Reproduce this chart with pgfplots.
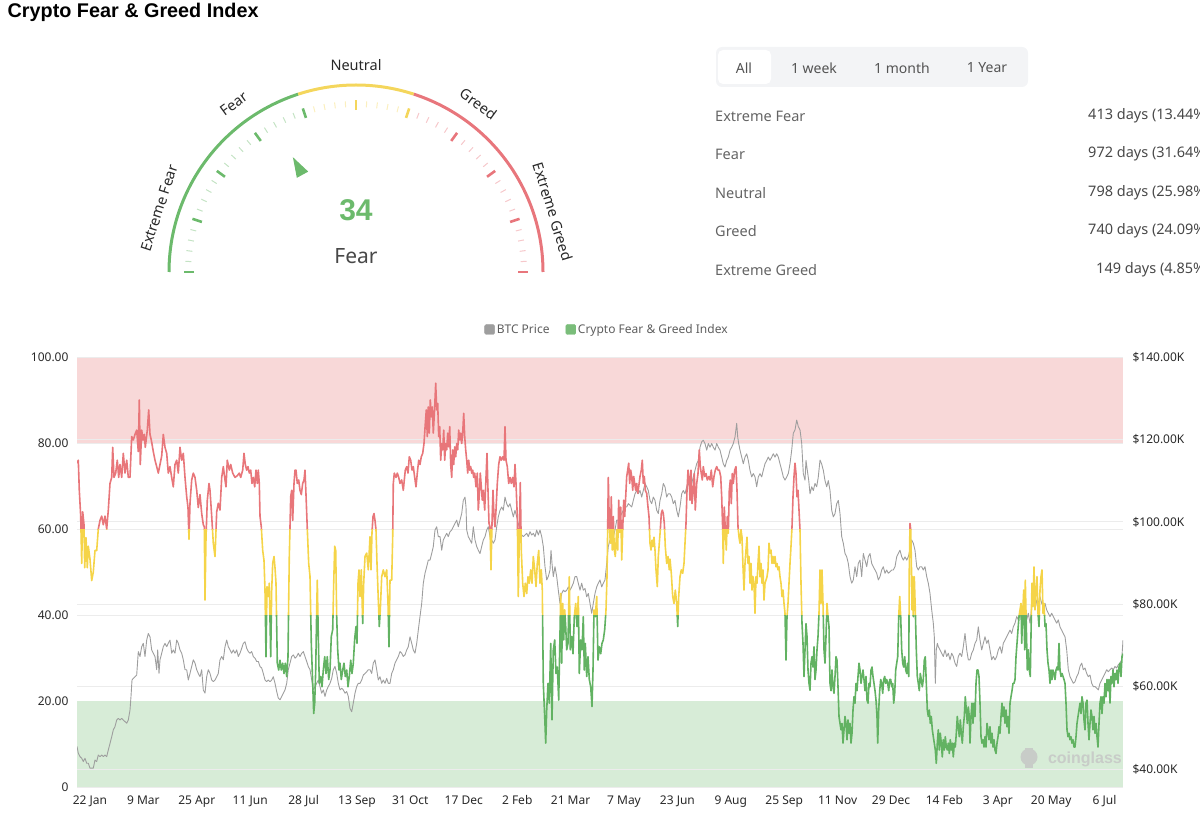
\documentclass[border=0pt]{standalone}
\usepackage{pgfplots}
\pgfplotsset{compat=1.18}
\usepackage{pgfplotstable}
\usepackage{fontspec}
\setmainfont{Noto Sans}
\newfontfamily\titlefont{Liberation Sans}

\definecolor{fgred}{RGB}{232,118,122}
\definecolor{fgyellow}{RGB}{245,212,72}
\definecolor{fggreen}{RGB}{98,178,98}
\definecolor{bandred}{RGB}{248,216,216}
\definecolor{bandgreen}{RGB}{215,236,215}
\definecolor{btcgray}{RGB}{158,158,158}
\definecolor{gridgray}{RGB}{236,236,236}
\definecolor{ticktext}{RGB}{40,40,40}
\definecolor{gaugegreen}{RGB}{108,186,108}
\definecolor{gaugeyellow}{RGB}{244,214,92}
\definecolor{gaugered}{RGB}{232,118,124}
\definecolor{labeltext}{RGB}{40,40,40}
\definecolor{stattext}{RGB}{100,100,100}
\definecolor{ctrlbg}{RGB}{243,244,246}
\definecolor{wmgray}{RGB}{200,204,200}

\pgfplotstableread{
x y
77.0 75.3
78.3 76.0
79.3 69.0
80.7 63.0
81.7 52.0
82.7 64.0
84.0 61.0
84.7 51.0
86.0 58.0
87.3 51.0
88.3 56.0
90.0 53.0
91.7 48.0
93.3 50.0
95.0 55.0
96.7 55.0
98.3 60.0
100.0 62.0
101.7 63.0
103.3 61.0
105.0 63.0
106.7 60.0
108.3 64.4
110.0 70.6
111.7 72.0
112.7 79.0
114.0 72.0
115.7 73.0
117.3 76.0
118.7 72.0
120.0 75.0
121.7 72.0
123.3 77.6
125.0 73.0
126.7 76.0
128.3 72.0
130.0 72.0
131.7 81.5
133.3 80.7
135.0 82.0
136.7 83.0
138.3 78.0
139.3 90.0
140.3 75.0
141.7 83.0
143.0 80.7
144.3 82.0
145.3 79.0
147.3 83.0
148.7 87.7
150.0 82.0
151.3 80.7
153.3 78.0
155.0 76.0
156.7 74.5
158.3 73.0
160.0 75.0
161.7 77.0
163.3 82.0
165.0 79.0
166.7 77.6
168.3 73.0
170.0 74.5
171.7 72.0
173.3 69.8
175.0 75.0
176.7 76.0
178.3 73.0
180.0 79.0
181.7 76.0
183.3 77.6
185.0 72.0
186.7 67.5
188.0 65.0
189.0 57.6
190.0 66.0
191.7 71.4
193.3 73.0
195.0 72.0
196.7 69.0
198.3 65.0
200.0 68.0
201.7 63.6
203.3 61.0
204.3 60.5
205.0 43.5
206.0 58.0
207.3 66.7
209.0 70.6
210.0 69.0
211.7 63.0
213.3 56.7
215.0 53.6
216.7 64.0
218.3 66.0
220.0 64.4
221.7 72.0
223.3 74.5
225.0 71.4
226.0 69.8
227.3 76.0
229.3 73.7
230.7 75.0
232.7 73.0
235.0 72.0
237.3 72.4
239.3 73.0
240.7 72.0
242.7 73.7
244.0 77.6
245.3 75.0
246.7 73.7
248.0 74.5
249.3 73.0
250.7 73.7
252.0 70.6
253.3 72.0
254.7 69.8
256.0 73.7
257.3 70.6
258.3 73.7
259.3 70.6
260.0 63.0
261.3 60.5
262.7 55.0
264.0 52.7
265.0 45.8
266.0 30.3
267.0 46.6
268.3 44.3
269.3 47.4
270.7 30.3
271.7 45.8
272.7 52.0
274.0 53.6
275.0 51.0
276.0 47.4
277.3 28.8
278.7 27.2
280.0 29.5
281.3 27.2
282.7 28.8
284.0 26.4
285.3 28.8
286.7 25.7
288.0 30.3
288.7 43.5
289.3 53.6
290.0 60.5
290.7 67.5
291.7 69.0
292.7 62.0
294.0 70.6
295.0 73.7
296.0 73.7
297.3 70.6
298.7 71.4
300.0 69.0
301.3 68.0
302.7 70.6
304.0 71.4
305.0 73.7
306.0 68.0
307.3 60.0
308.7 52.0
310.0 49.0
311.3 33.4
312.7 24.1
313.7 17.1
314.7 19.5
315.7 27.2
316.7 41.2
317.3 48.1
318.3 35.0
319.3 24.1
320.7 25.7
322.0 23.3
323.3 27.2
324.7 30.3
326.0 26.4
327.3 30.3
328.7 25.0
330.0 27.2
331.3 35.0
332.7 36.6
333.7 47.4
334.7 56.0
335.7 55.0
336.7 39.6
337.7 31.9
339.0 27.2
340.0 28.8
341.3 25.0
342.7 27.2
344.0 28.8
345.3 25.7
346.7 27.2
348.0 23.3
349.3 25.7
350.7 29.5
352.0 26.4
353.3 28.8
354.7 34.5
356.0 37.3
357.0 33.4
358.0 47.4
359.0 50.5
360.0 44.3
361.3 50.5
362.7 38.0
363.7 47.4
365.0 53.6
366.7 54.4
368.3 50.5
370.0 58.2
371.0 50.5
372.0 59.2
373.0 62.9
374.0 63.6
375.0 62.0
376.0 59.8
377.0 52.0
378.3 43.5
379.3 37.3
380.3 41.2
381.7 48.9
383.3 50.5
385.0 48.9
386.7 50.5
388.0 42.7
389.0 32.6
390.0 48.1
391.7 48.1
392.7 58.2
393.3 70.6
394.3 73.0
396.0 72.0
397.3 73.0
398.7 72.0
400.0 70.6
401.7 71.4
403.3 69.0
404.3 71.4
405.3 73.7
406.7 74.5
408.0 73.0
409.3 76.8
410.7 76.0
412.0 73.7
413.3 74.5
414.7 72.0
416.0 69.8
417.3 73.0
418.7 76.0
420.0 75.0
421.3 76.8
422.7 77.6
424.0 79.9
425.3 84.5
426.3 87.7
427.3 81.5
428.3 88.4
429.3 82.3
430.3 90.0
431.3 86.1
432.3 88.4
433.3 82.3
434.7 88.4
435.7 93.9
436.7 87.7
437.7 89.2
438.7 81.5
439.7 83.8
440.7 76.0
441.7 79.9
442.7 78.4
443.7 83.0
444.7 76.0
445.7 79.9
446.7 78.4
447.7 82.3
448.7 79.1
449.7 83.8
450.7 75.0
451.7 72.0
452.7 78.4
453.7 75.0
454.7 79.1
455.7 76.8
456.7 79.9
457.7 78.4
458.7 83.0
459.7 80.7
460.7 82.3
461.7 79.9
462.7 82.3
463.7 86.9
464.7 81.5
465.7 78.4
466.7 76.0
467.7 73.0
468.7 76.0
469.7 73.7
470.7 74.5
471.7 73.0
472.7 73.7
473.7 72.0
474.7 73.0
476.0 69.8
477.3 73.0
478.3 64.4
479.3 68.1
480.3 73.0
481.3 69.8
482.3 66.7
483.3 69.0
484.7 64.4
486.0 72.0
487.0 77.6
488.0 69.0
489.0 61.3
490.0 60.5
491.0 50.5
492.0 61.3
493.0 69.0
494.0 62.9
495.0 60.5
496.0 64.4
497.3 70.6
498.7 75.0
500.0 76.8
501.3 76.0
502.7 76.8
504.0 76.0
505.0 83.8
506.0 76.0
507.3 74.5
508.7 70.6
510.0 72.0
511.3 70.6
512.7 72.0
514.0 69.8
515.0 75.0
516.0 70.6
517.3 62.9
518.3 44.3
519.3 58.2
520.3 70.8
521.3 55.0
522.7 47.4
524.0 44.3
525.3 47.4
526.7 45.0
528.0 48.9
529.3 47.4
530.7 50.5
532.0 47.4
533.3 53.6
534.7 50.5
536.0 46.6
537.3 52.0
538.7 55.0
540.0 47.4
541.3 50.5
542.3 45.8
543.3 24.1
544.7 16.4
545.7 10.2
546.7 17.9
548.0 24.1
549.3 19.5
550.7 33.4
552.0 15.6
553.3 31.9
554.7 34.2
556.0 26.4
557.3 27.9
558.7 20.2
559.7 31.9
560.7 45.0
561.7 28.8
562.7 42.7
563.7 34.2
564.7 41.2
565.7 37.3
566.7 31.9
568.0 33.4
569.3 48.9
570.3 31.9
571.7 35.0
573.0 31.0
574.3 39.6
575.7 42.7
577.0 37.3
578.3 44.3
579.3 26.4
580.7 34.2
582.0 31.9
583.3 39.6
584.3 27.2
585.3 33.4
586.7 25.7
588.0 30.3
589.3 25.0
590.7 23.3
592.0 18.7
593.0 27.2
594.0 41.2
595.3 39.6
596.7 44.3
598.0 29.5
599.3 32.6
600.7 31.0
602.0 33.4
603.3 34.2
604.7 36.6
606.0 41.2
607.0 48.9
607.7 60.5
608.3 72.0
609.3 61.3
610.3 56.7
611.3 67.5
612.3 55.1
613.3 62.9
614.3 55.1
615.3 53.6
616.7 59.8
617.7 55.1
618.7 66.7
619.7 59.2
620.7 65.1
621.7 52.8
622.7 59.8
623.7 66.7
624.7 62.9
625.7 67.5
626.7 72.2
627.7 73.7
628.7 75.3
629.7 70.6
630.7 73.7
631.7 72.2
632.7 69.0
633.7 72.2
634.7 70.6
635.7 69.0
636.7 70.6
637.7 68.3
638.7 69.8
640.0 72.2
641.3 73.7
642.3 76.0
643.3 70.6
644.3 72.2
645.3 69.0
646.7 68.3
648.0 65.1
649.0 62.9
650.0 56.7
651.0 55.1
652.0 57.4
653.0 55.9
654.0 58.1
655.0 55.1
656.0 50.5
657.3 46.6
658.3 53.6
659.3 56.7
660.3 59.8
661.3 63.6
662.3 64.4
663.3 63.6
664.3 61.3
665.3 55.9
666.7 52.0
668.0 53.6
669.3 50.5
670.0 53.0
671.3 49.7
672.7 44.3
674.0 42.7
675.3 45.8
676.7 42.7
677.7 37.3
678.7 44.3
680.0 48.9
681.3 50.5
682.7 49.7
684.0 52.0
685.0 56.7
686.0 61.3
687.0 69.0
688.0 73.7
689.0 72.2
690.0 66.7
691.0 73.7
692.0 65.9
693.3 69.0
694.3 72.9
695.3 64.4
696.7 70.6
698.0 72.9
699.3 78.4
700.3 74.5
701.3 72.9
702.3 71.4
703.3 74.5
704.7 72.2
706.0 72.9
707.3 71.4
708.7 72.2
710.0 71.4
711.3 73.7
712.7 69.8
714.0 72.2
715.3 73.7
716.7 74.5
718.0 73.7
719.3 73.7
720.7 72.2
721.7 67.5
722.7 59.8
723.3 52.0
724.3 65.1
725.3 59.8
726.3 55.1
727.3 62.9
728.3 59.0
729.3 69.0
730.3 71.4
731.3 65.9
732.3 72.9
733.3 70.6
734.7 73.7
736.0 74.5
737.0 69.0
738.0 60.5
739.0 58.1
740.0 56.7
741.0 59.8
742.0 58.1
743.0 51.2
744.0 45.8
745.0 52.0
746.0 55.1
747.0 58.1
748.0 52.0
749.0 53.6
750.0 47.4
751.0 52.0
752.0 45.8
753.0 48.9
754.0 47.4
755.0 40.4
756.0 48.9
757.0 47.4
758.0 52.0
759.0 56.0
760.0 48.9
761.0 52.0
762.0 47.4
763.0 50.5
764.0 43.5
765.0 47.4
766.0 48.1
767.0 48.9
768.0 50.5
769.0 56.7
770.0 54.4
771.0 55.1
772.0 52.0
773.0 53.6
774.0 52.0
775.0 53.6
776.0 51.2
777.0 52.0
778.0 50.5
779.0 51.2
780.0 48.9
781.0 47.4
782.0 44.3
783.0 45.8
784.0 42.7
785.0 40.4
786.0 29.5
787.0 39.6
788.0 42.7
789.0 47.4
790.0 52.0
791.0 56.0
792.0 60.5
793.0 67.5
794.0 72.2
795.0 75.3
796.0 72.9
797.0 67.5
798.0 69.0
799.0 64.4
800.0 59.8
801.0 47.4
802.0 38.0
803.0 33.4
804.0 25.7
805.0 31.9
806.0 38.0
807.0 35.0
808.0 27.2
809.0 24.1
810.0 22.5
811.0 28.8
812.0 30.3
813.0 27.9
814.0 32.6
815.0 25.0
816.0 27.2
817.0 31.9
818.0 35.0
819.0 40.4
820.0 50.5
821.0 42.7
822.0 50.5
823.0 42.7
824.0 31.9
825.0 28.8
826.0 35.0
827.0 42.7
828.0 39.6
829.0 37.3
830.0 24.1
831.0 22.4
832.0 27.2
833.0 23.3
834.0 21.8
835.0 25.7
836.0 30.3
837.0 29.5
838.0 23.3
839.0 16.4
840.0 14.8
841.0 13.3
842.0 14.8
843.0 10.2
844.0 13.3
845.0 16.4
846.0 14.8
847.0 11.0
848.0 15.6
849.0 12.5
850.0 14.8
851.0 10.2
852.0 12.5
853.0 17.9
854.0 21.0
855.0 19.5
856.0 24.1
857.0 22.4
858.0 25.7
859.0 28.8
860.0 27.2
861.0 24.1
862.0 25.7
863.0 27.2
864.0 25.0
865.0 22.4
866.0 25.7
867.0 20.2
868.0 19.5
869.0 24.1
870.0 23.3
871.0 27.2
872.0 27.9
873.0 25.7
874.0 24.1
875.0 22.4
876.0 20.2
877.0 16.4
877.7 10.2
878.7 17.9
879.7 22.4
880.7 25.0
881.7 24.1
882.7 21.8
883.7 25.0
884.7 25.7
885.7 24.1
886.7 25.0
887.7 24.1
888.7 22.4
889.7 25.0
890.7 25.0
891.7 23.3
892.7 24.1
893.7 19.5
894.7 21.8
895.7 27.2
896.7 28.8
897.7 30.3
898.7 39.6
899.7 44.3
900.7 39.6
901.7 31.9
902.7 28.8
903.7 27.9
904.7 30.3
905.7 27.2
906.7 26.4
907.7 28.8
908.7 25.7
909.3 51.2
910.0 61.3
910.7 59.8
911.3 53.6
912.0 41.2
912.7 48.9
913.3 39.6
914.3 48.9
915.3 41.2
916.3 31.9
917.3 25.7
918.3 24.1
919.3 22.4
920.3 26.4
921.3 25.0
922.3 23.3
923.3 25.0
924.3 29.5
925.3 30.3
926.3 24.1
927.3 17.9
928.3 16.4
929.3 17.9
930.3 14.8
931.3 16.4
932.3 13.3
933.3 11.7
934.3 10.2
935.3 8.6
936.3 5.5
937.3 10.2
938.3 13.3
939.3 8.6
940.3 12.5
941.3 10.2
942.3 7.0
943.3 11.0
944.3 8.6
945.3 11.7
946.3 9.3
947.3 8.6
948.3 10.2
949.3 7.8
950.3 11.0
951.3 8.6
952.3 10.2
953.3 7.0
954.3 10.2
955.3 9.3
956.3 12.5
957.3 16.4
958.3 14.0
959.3 11.7
960.3 15.6
961.3 12.5
962.3 10.2
963.3 14.0
964.3 16.4
965.3 21.0
966.3 17.9
967.3 14.8
968.3 18.6
969.3 16.4
970.0 10.2
971.0 16.4
972.0 19.5
973.0 14.8
974.0 19.5
975.0 16.4
976.0 24.1
977.0 27.2
978.0 27.2
979.0 25.7
980.0 19.5
981.0 11.7
982.0 10.2
983.0 11.0
984.0 9.3
985.0 11.7
986.0 9.3
987.0 14.8
988.0 13.3
989.0 11.0
990.0 14.0
991.0 10.2
992.0 12.5
993.0 9.3
994.0 11.0
995.0 8.6
996.0 7.8
997.0 10.2
998.0 11.7
999.0 14.0
1000.0 12.5
1001.0 16.4
1002.0 19.5
1003.0 16.4
1004.0 18.6
1005.0 14.8
1006.0 17.9
1007.0 14.0
1008.0 16.4
1009.0 12.5
1010.0 19.5
1011.0 21.0
1012.0 22.4
1013.0 24.1
1014.0 24.1
1015.0 25.0
1016.0 30.3
1017.0 33.4
1018.0 36.6
1019.0 39.6
1020.0 41.2
1021.0 42.7
1021.7 33.4
1022.7 40.4
1023.7 45.8
1024.7 31.9
1025.3 48.1
1026.3 37.3
1027.3 27.2
1028.3 31.9
1029.3 27.2
1030.3 25.7
1031.3 39.6
1032.0 47.4
1033.0 42.0
1034.0 51.2
1035.0 41.2
1036.0 45.8
1037.0 48.9
1038.0 40.4
1039.0 37.3
1040.0 45.8
1041.0 48.9
1042.0 50.5
1043.0 40.4
1044.0 42.7
1045.0 37.3
1046.0 38.0
1047.0 31.9
1048.0 28.8
1049.0 27.2
1050.0 24.1
1051.0 27.2
1052.0 25.0
1053.0 27.2
1054.0 26.4
1055.0 25.0
1056.0 27.2
1057.0 27.9
1058.0 27.2
1059.0 33.4
1060.0 27.2
1061.0 25.7
1062.0 26.4
1063.0 25.7
1064.0 25.0
1065.0 24.1
1066.0 19.5
1067.0 13.3
1068.0 11.7
1069.0 12.5
1070.0 11.0
1071.0 11.7
1072.0 10.2
1073.0 11.0
1074.0 9.3
1075.0 9.3
1076.0 11.7
1077.0 14.8
1078.0 16.4
1079.0 17.9
1080.0 19.5
1081.0 17.1
1082.0 21.0
1083.0 19.5
1084.0 15.6
1085.0 13.3
1086.0 19.5
1087.0 20.2
1088.0 14.8
1089.0 11.0
1090.0 14.8
1091.0 17.9
1092.0 16.4
1093.0 13.3
1094.0 16.4
1095.0 12.5
1096.0 14.8
1097.0 11.7
1098.0 9.3
1099.0 14.8
1100.0 19.5
1101.0 21.0
1102.0 17.1
1103.0 21.0
1104.0 19.5
1105.0 24.1
1106.0 21.0
1107.0 25.0
1108.0 22.4
1109.0 25.0
1110.0 19.5
1111.0 25.7
1112.0 24.1
1113.0 27.2
1114.0 23.3
1115.0 26.4
1116.0 25.0
1117.0 27.2
1118.0 24.1
1119.0 27.9
1120.0 28.8
1121.0 25.7
1122.0 30.3
1123.0 31.0
}\fgdata

\pgfplotstableread{
x y
77.0 45.5
78.3 43.8
80.0 43.0
81.7 42.6
83.3 41.8
85.0 42.6
86.7 41.4
88.3 41.4
90.0 40.2
91.7 40.2
93.3 40.2
95.0 42.2
96.7 41.8
98.3 43.4
100.0 43.0
101.7 43.4
103.3 43.0
105.0 43.4
106.7 43.0
108.3 44.6
110.0 46.2
111.7 47.8
113.3 49.5
115.0 50.3
116.7 51.9
118.3 52.3
120.0 51.9
121.7 52.3
123.3 51.9
125.0 51.5
126.7 51.1
128.3 51.9
130.0 54.3
131.0 57.6
132.0 61.6
133.3 62.0
135.0 62.4
136.7 62.8
138.3 68.5
140.0 67.3
141.7 69.7
143.3 70.5
145.0 67.3
146.7 71.3
148.3 72.9
150.0 72.1
151.7 68.9
153.3 68.1
155.0 67.3
156.7 64.1
157.7 68.9
159.0 63.2
160.0 66.5
161.7 68.1
163.3 69.7
165.0 70.5
166.7 69.7
168.3 70.5
170.0 71.3
171.7 68.1
173.3 68.9
175.0 68.1
176.7 71.3
178.3 70.5
180.0 68.9
181.7 68.1
183.3 66.5
185.0 64.1
186.7 64.1
188.3 61.6
190.0 63.2
191.7 64.9
193.3 66.5
195.0 65.7
196.7 64.1
198.3 63.2
200.0 62.4
201.7 64.1
203.3 59.2
205.0 58.4
206.7 62.4
208.3 64.1
210.0 63.2
211.7 61.6
213.3 61.2
215.0 61.6
216.7 62.4
218.3 63.2
220.0 66.5
221.7 67.3
223.3 66.5
225.0 69.7
226.7 71.3
228.3 69.7
230.0 68.9
231.7 68.1
233.3 68.9
235.0 68.1
236.7 68.9
238.3 67.3
240.0 68.1
241.7 69.3
243.3 70.5
245.0 70.9
246.7 69.3
248.3 68.5
250.0 68.1
251.7 68.5
253.3 67.3
255.0 66.9
256.7 66.1
258.3 66.1
260.0 64.9
261.7 64.5
263.3 63.2
265.0 61.6
266.7 61.2
268.3 61.6
270.0 61.2
271.7 61.6
273.3 62.4
275.0 60.8
276.7 58.8
278.3 57.2
280.0 56.8
281.7 57.6
283.3 58.4
285.0 59.2
286.7 60.8
288.3 64.1
290.0 65.7
291.7 67.3
293.3 67.7
295.0 66.9
296.7 67.3
298.3 68.1
300.0 67.3
301.7 68.1
303.3 68.5
305.0 67.3
306.7 66.1
308.3 64.9
310.0 64.1
311.7 61.6
313.3 59.2
315.0 60.0
316.7 60.8
318.3 61.6
320.0 60.0
321.7 58.4
323.3 59.2
325.0 57.6
326.7 59.2
328.3 60.0
330.0 60.8
331.7 62.0
333.3 64.1
335.0 64.9
336.7 63.2
338.3 60.8
340.0 59.2
341.7 59.6
343.3 59.2
345.0 58.4
346.7 58.8
348.3 57.6
350.0 54.7
351.7 53.9
353.3 56.0
355.0 58.4
356.7 60.0
358.3 60.8
360.0 60.8
361.7 61.6
363.3 62.8
365.0 63.2
366.7 63.6
368.3 64.1
370.0 64.1
371.7 63.2
373.3 65.7
375.0 66.5
376.7 64.1
378.3 61.6
380.0 62.4
381.7 60.8
383.3 61.6
385.0 60.8
386.7 62.0
388.3 60.8
390.0 60.8
391.7 63.2
393.3 64.1
395.0 65.7
396.7 66.5
398.3 67.3
400.0 68.5
401.7 68.1
403.3 67.3
405.0 67.7
406.7 68.9
408.3 69.7
410.0 72.1
411.7 70.5
413.3 68.9
415.0 68.1
416.7 70.5
418.3 73.7
420.0 77.0
421.7 80.2
423.3 85.1
425.0 87.5
426.7 89.1
428.3 90.7
430.0 90.7
431.7 92.3
433.3 94.0
435.0 98.0
436.7 98.8
438.3 96.4
440.0 96.4
441.7 93.1
443.3 95.6
445.0 96.4
446.7 97.2
448.3 96.4
450.0 97.6
451.7 98.0
453.3 98.8
455.0 99.6
456.7 100.4
458.3 98.8
460.0 100.4
461.7 102.0
463.3 105.2
465.0 106.0
466.0 103.6
466.7 98.0
468.3 96.4
470.0 95.6
471.7 94.8
473.3 98.8
475.0 95.6
476.7 94.0
478.3 93.1
480.0 92.3
481.7 94.0
483.3 95.6
485.0 96.4
486.7 98.0
488.3 98.8
490.0 96.4
491.7 95.6
493.3 94.8
495.0 95.6
496.7 98.8
498.3 101.2
500.0 102.8
501.7 103.6
503.3 102.8
505.0 106.0
506.7 104.4
508.3 103.6
510.0 104.4
511.7 102.8
513.3 101.2
515.0 102.8
516.7 101.2
518.3 99.6
520.0 98.0
521.7 96.8
523.3 96.4
525.0 96.8
526.7 97.2
528.3 96.4
530.0 97.6
531.7 96.8
533.3 97.2
535.0 96.4
536.7 98.0
538.3 96.8
540.0 98.0
541.7 96.4
543.3 94.0
545.0 89.1
546.7 85.9
548.3 86.7
550.0 88.3
551.0 93.1
552.0 89.9
553.3 86.7
555.0 89.1
556.7 86.7
558.3 83.4
560.0 80.2
561.7 82.6
563.3 83.4
565.0 83.0
566.7 83.4
568.3 84.2
570.0 83.4
571.7 84.2
573.3 85.1
575.0 86.7
576.7 86.7
578.3 85.1
580.0 83.4
581.7 85.1
583.3 83.4
585.0 83.8
586.7 81.8
588.3 82.6
590.0 80.2
591.7 77.8
593.3 80.2
595.0 82.6
596.7 84.2
598.3 85.1
600.0 85.9
601.7 84.2
603.3 85.1
605.0 85.9
606.7 89.9
608.3 94.0
610.0 95.6
611.7 94.8
613.3 96.4
615.0 98.0
616.7 100.4
618.3 100.4
620.0 101.2
621.7 102.0
623.3 102.8
625.0 103.6
626.7 103.6
628.3 104.4
630.0 104.0
631.7 103.6
633.3 105.2
635.0 106.8
636.7 107.6
638.3 106.8
640.0 107.6
641.7 106.0
643.3 107.6
645.0 109.3
646.7 108.5
648.3 107.6
650.0 105.2
651.7 104.4
653.3 106.0
655.0 105.2
656.7 102.8
658.3 102.0
660.0 105.2
661.7 106.8
663.3 109.3
665.0 108.5
666.7 106.0
668.3 106.8
670.0 106.8
671.7 106.0
673.3 104.4
675.0 105.2
676.7 102.8
678.3 101.2
680.0 103.6
681.7 106.8
683.3 107.6
685.0 106.8
686.7 108.5
688.3 109.3
690.0 108.5
691.7 109.3
693.3 110.9
695.0 112.5
696.7 114.1
698.3 114.9
700.0 118.1
701.7 119.4
703.3 119.8
705.0 119.0
706.7 117.4
708.3 119.0
710.0 118.1
711.7 119.0
713.3 118.1
715.0 117.4
716.7 119.0
718.3 118.1
720.0 117.4
721.7 115.7
723.3 114.1
725.0 113.3
726.7 114.9
728.3 115.7
730.0 117.4
731.7 118.1
733.3 119.0
735.0 120.6
736.7 123.9
737.7 120.6
738.7 119.0
740.0 117.4
741.7 115.7
743.3 114.1
745.0 115.7
746.7 116.5
748.3 114.9
750.0 112.5
751.7 110.9
753.3 111.7
755.0 110.9
756.7 108.5
758.3 110.9
760.0 111.7
761.7 110.9
763.3 112.5
765.0 114.1
766.7 114.9
768.3 115.7
770.0 114.9
771.7 115.7
773.3 116.5
775.0 115.7
776.7 116.5
778.3 115.7
780.0 114.1
781.7 112.5
783.3 110.9
785.0 110.1
786.7 110.9
788.3 111.7
790.0 114.1
791.7 117.4
793.3 121.5
795.0 122.3
796.7 124.7
798.3 123.1
800.0 122.3
801.7 119.0
803.3 111.7
805.0 110.1
806.0 114.9
807.3 112.5
808.7 110.1
810.0 106.8
811.7 108.5
813.3 107.6
815.0 109.3
816.7 108.5
818.3 110.9
820.0 115.0
821.7 114.0
823.3 112.5
825.0 110.0
826.7 108.5
828.3 110.0
830.0 107.6
831.7 102.8
833.3 101.2
835.0 102.0
836.7 104.4
838.3 105.2
840.0 102.0
841.7 96.4
843.3 94.8
845.0 92.3
846.7 91.5
848.3 89.9
850.0 86.7
851.7 85.1
853.3 85.9
855.0 89.1
856.7 86.7
858.3 89.9
860.0 90.7
861.7 86.7
863.3 92.3
865.0 90.7
866.7 89.1
868.3 91.5
870.0 92.3
871.7 89.9
873.3 89.1
875.0 88.3
876.7 87.5
878.3 85.9
880.0 86.7
881.7 88.3
883.3 89.1
885.0 87.5
886.7 88.3
888.3 87.5
890.0 87.9
891.7 88.3
893.3 88.3
895.0 89.1
896.7 91.5
898.3 92.3
900.0 93.1
901.7 91.5
903.3 90.7
905.0 91.5
906.7 90.7
908.3 91.5
910.0 93.1
911.7 95.6
913.3 94.8
915.0 93.1
916.7 89.1
918.3 88.3
920.0 89.1
921.7 89.1
923.3 88.3
925.0 89.1
926.7 86.7
928.3 85.1
930.0 82.6
931.7 78.6
933.3 75.4
934.3 72.1
935.3 60.8
936.3 68.9
937.3 70.5
938.3 69.7
940.0 68.9
941.7 68.1
943.3 67.3
945.0 68.9
946.7 67.3
948.3 68.1
950.0 66.5
951.7 68.1
953.3 67.3
955.0 65.7
956.7 64.9
958.3 67.3
960.0 68.1
961.7 67.3
963.3 69.7
965.0 72.9
966.7 68.9
968.3 66.5
970.0 66.5
971.7 68.1
973.3 68.9
975.0 70.5
976.7 71.3
978.3 74.5
980.0 71.3
981.7 68.9
983.3 70.5
985.0 72.1
986.7 70.5
988.3 71.3
990.0 68.9
991.7 66.5
993.3 67.3
995.0 66.5
996.7 67.3
998.3 68.9
1000.0 69.7
1001.7 68.1
1003.3 70.5
1005.0 71.3
1006.7 72.1
1008.3 72.9
1010.0 73.7
1011.7 72.9
1013.3 74.5
1015.0 75.4
1016.7 77.0
1018.3 76.2
1020.0 77.8
1021.7 76.2
1023.3 77.0
1025.0 77.8
1026.7 76.2
1028.3 77.8
1030.0 75.4
1031.7 79.4
1033.3 80.2
1035.0 78.6
1036.7 81.0
1038.3 80.2
1040.0 81.8
1041.7 80.2
1043.3 79.4
1045.0 80.2
1046.7 78.6
1048.3 77.8
1050.0 77.0
1051.7 77.8
1053.3 77.0
1055.0 76.2
1056.7 75.4
1058.3 76.2
1060.0 74.5
1061.7 73.7
1063.3 72.9
1065.0 72.1
1066.7 68.9
1068.3 64.1
1070.0 62.4
1071.7 61.6
1073.3 60.8
1075.0 61.2
1076.7 62.4
1078.3 63.2
1080.0 64.9
1081.7 65.7
1083.3 64.1
1085.0 64.5
1086.7 63.2
1088.3 62.4
1090.0 62.8
1091.7 60.8
1093.3 60.0
1095.0 60.0
1096.7 59.6
1098.3 59.2
1100.0 60.8
1101.7 61.6
1103.3 62.4
1105.0 63.2
1106.7 64.1
1108.3 63.6
1110.0 64.1
1111.7 64.5
1113.3 64.1
1115.0 64.9
1116.7 64.5
1118.3 65.3
1120.0 65.7
1121.7 66.5
1123.0 71.3
}\btcdata

\pgfplotsset{
  fgaxis/.style={
    at={(77pt,-787pt)}, anchor=south west,
    scale only axis, width=1046pt, height=430pt,
    xmin=77, xmax=1123, ymin=0, ymax=100,
    hide axis,
  },
}

\begin{document}
\begin{tikzpicture}
\useasboundingbox (0pt,0pt) rectangle (1200pt,-813pt);

% ---------- title ----------
\node[anchor=west, inner sep=0pt, text=black,
      font=\titlefont\bfseries\fontsize{19.8}{22}\selectfont] at (7.5pt,-12pt) {Crypto Fear \& Greed Index};

% ---------- gauge ----------
\begin{scope}[shift={(356pt,-272pt)}]
  \draw[gaugegreen, line width=3pt] (180:187pt) arc[start angle=180, end angle=108, radius=187pt];
  \draw[gaugeyellow, line width=3pt] (108:187pt) arc[start angle=108, end angle=72, radius=187pt];
  \draw[gaugered, line width=3pt] (72:187pt) arc[start angle=72, end angle=0, radius=187pt];
  \foreach \v in {0,2,...,100}{
    \pgfmathsetmacro{\ang}{180-1.8*\v}
    \ifnum\v>60 \def\tc{gaugered}\else\ifnum\v>40 \def\tc{gaugeyellow}\else\def\tc{gaugegreen}\fi\fi
    \pgfmathtruncatemacro{\m}{mod(\v,10)}
    \ifnum\m=0
      \draw[\tc, line width=2.6pt] (\ang:162pt) -- (\ang:172pt);
    \else
      \draw[\tc!40!white, line width=1pt] (\ang:165pt) -- (\ang:171pt);
    \fi
  }
  \begin{scope}[rotate=118.8]
    \fill[gaugegreen] (131pt,0pt) -- (111pt,6.5pt) -- (111pt,-6.5pt) -- cycle;
  \end{scope}
  \begin{scope}[font=\fontsize{14.5}{16}\selectfont, text=labeltext]
    \node[rotate=72] at (162:207pt) {Extreme Fear};
    \node[rotate=36] at (126:208pt) {Fear};
    \node at (90:207pt) {Neutral};
    \node[rotate=-36] at (54:208pt) {Greed};
    \node[rotate=-73] at (17:206pt) {Extreme Greed};
  \end{scope}
  \node[text=gaugegreen, font=\titlefont\bfseries\fontsize{30}{32}\selectfont] at (0pt,62pt) {34};
  \node[text=labeltext!85!white, font=\fontsize{21}{24}\selectfont] at (0pt,16pt) {Fear};
\end{scope}

% ---------- segmented control ----------
\fill[ctrlbg, rounded corners=6pt] (716pt,-47pt) rectangle (1028pt,-87pt);
\fill[white, rounded corners=5pt] (718pt,-50pt) rectangle (771pt,-84pt);
\begin{scope}[font=\fontsize{14}{16}\selectfont, text=labeltext!80!white]
  \node at (744pt,-68pt) {All};
  \node at (814pt,-68pt) {1 week};
  \node at (902pt,-68pt) {1 month};
  \node at (987pt,-68pt) {1 Year};
\end{scope}

% ---------- stats ----------
\begin{scope}[font=\fontsize{14.5}{16}\selectfont, text=stattext]
  \node[anchor=west, inner sep=0pt] at (715pt,-116pt) {Extreme Fear};
  \node[anchor=west, inner sep=0pt] at (715pt,-154pt) {Fear};
  \node[anchor=west, inner sep=0pt] at (715pt,-193pt) {Neutral};
  \node[anchor=west, inner sep=0pt] at (715pt,-231pt) {Greed};
  \node[anchor=west, inner sep=0pt] at (715pt,-270pt) {Extreme Greed};
  \node[anchor=west, inner sep=0pt, text=labeltext!85!white] at (1088pt,-116pt) {413 days (13.44\%)};
  \node[anchor=west, inner sep=0pt, text=labeltext!85!white] at (1088pt,-154pt) {972 days (31.64\%)};
  \node[anchor=west, inner sep=0pt, text=labeltext!85!white] at (1088pt,-193pt) {798 days (25.98\%)};
  \node[anchor=west, inner sep=0pt, text=labeltext!85!white] at (1088pt,-231pt) {740 days (24.09\%)};
  \node[anchor=west, inner sep=0pt, text=labeltext!85!white] at (1096pt,-270pt) {149 days (4.85\%)};
\end{scope}

% ---------- main (left) axis ----------
\begin{axis}[
  at={(77pt,-787pt)}, anchor=south west,
  scale only axis, width=1046pt, height=430pt,
  xmin=77, xmax=1123, ymin=0, ymax=100,
  axis line style={draw=none},
  major tick length=0pt,
  xtick={90,143.4,196.8,250.2,303.6,357,410.4,463.8,517.2,570.6,624,677.4,730.8,784.2,837.6,891,944.4,997.8,1051.2,1104.6},
  xticklabels={22 Jan,9 Mar,25 Apr,11 Jun,28 Jul,13 Sep,31 Oct,17 Dec,2 Feb,21 Mar,7 May,23 Jun,9 Aug,25 Sep,11 Nov,29 Dec,14 Feb,3 Apr,20 May,6 Jul},
  ytick={0,20,40,60,80,100},
  yticklabels={0,20.00,40.00,60.00,80.00,100.00},
  ymajorgrids, grid style={gridgray, line width=0.8pt},
  tick label style={font=\fontsize{12}{14}\selectfont, text=ticktext},
  yticklabel style={xshift=-5pt},
  xticklabel style={yshift=-5pt},
  legend style={at={(0.5067,1)}, anchor=south, yshift=18pt, draw=none, fill=none,
    legend columns=2, font=\fontsize{12}{14}\selectfont, text=labeltext!75!white,
    /tikz/every even column/.append style={column sep=14pt}},
]
\addplot[draw=none, fill=bandred, forget plot] coordinates {(77,80) (1123,80) (1123,100) (77,100)} -- cycle;
\addplot[draw=none, fill=bandgreen, forget plot] coordinates {(77,0) (1123,0) (1123,20) (77,20)} -- cycle;
\addlegendimage{legend image code/.code={\fill[btcgray, rounded corners=1.5pt] (0pt,-5pt) rectangle (10pt,5pt);}}
\addlegendentry{BTC Price}
\addlegendimage{legend image code/.code={\fill[fggreen!85!white, rounded corners=1.5pt] (0pt,-5pt) rectangle (10pt,5pt);}}
\addlegendentry{Crypto Fear \& Greed Index}
\end{axis}

% ---------- right axis: BTC price ----------
\begin{axis}[
  at={(77pt,-787pt)}, anchor=south west,
  scale only axis, width=1046pt, height=430pt,
  xmin=77, xmax=1123, ymin=35.63, ymax=140,
  hide x axis,
  axis y line*=right,
  y axis line style={draw=none},
  major tick length=0pt,
  ytick={40,60,80,100,120,140},
  yticklabels={\$40.00K,\$60.00K,\$80.00K,\$100.00K,\$120.00K,\$140.00K},
  ymajorgrids, grid style={gridgray, line width=0.8pt},
  tick label style={font=\fontsize{12}{14}\selectfont, text=ticktext},
  yticklabel style={xshift=6pt},
]
\addplot[btcgray, line width=0.9pt, line join=round] table {\btcdata};
\end{axis}

% ---------- Fear & Greed line, coloured by zone ----------
\begin{scope}
  \clip (0pt,-529pt) rectangle (1200pt,-300pt);
  \begin{axis}[fgaxis]
    \addplot[fgred, line width=1.6pt, line join=round] table {\fgdata};
  \end{axis}
\end{scope}
\begin{scope}
  \clip (0pt,-615pt) rectangle (1200pt,-529pt);
  \begin{axis}[fgaxis]
    \addplot[fgyellow, line width=1.6pt, line join=round] table {\fgdata};
  \end{axis}
\end{scope}
\begin{scope}
  \clip (0pt,-813pt) rectangle (1200pt,-615pt);
  \begin{axis}[fgaxis]
    \addplot[fggreen, line width=1.6pt, line join=round] table {\fgdata};
  \end{axis}
\end{scope}

% ---------- watermark ----------
\fill[wmgray] (1029pt,-757pt) circle[radius=8.5pt];
\fill[wmgray] (1025pt,-768pt) rectangle (1033pt,-748pt);
\node[anchor=east, inner sep=0pt, text=wmgray, font=\titlefont\bfseries\fontsize{16}{18}\selectfont] at (1122pt,-759pt) {coinglass};

\end{tikzpicture}
\end{document}
